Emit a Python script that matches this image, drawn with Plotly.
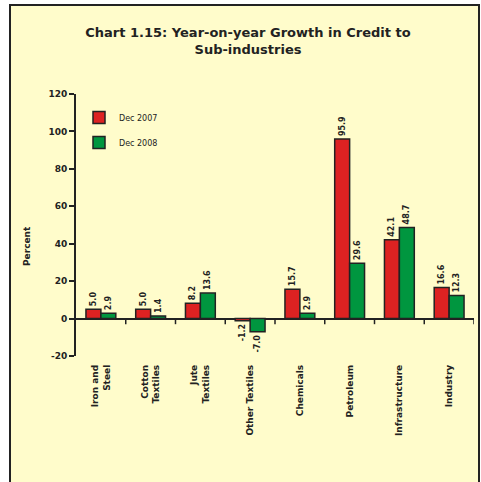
import plotly.graph_objects as go

# Growth in bank credit by sub-industry (per cent, year-on-year)
categories = ["Iron and<br>Steel", "Cotton<br>Textiles", "Jute<br>Textiles", "Other Textiles",
              "Chemicals", "Petroleum", "Infrastructure", "Industry"]
series_names = ["Dec 2007", "Dec 2008"]
growth_2007 = [5.0, 5.0, 8.2, -1.2, 15.7, 95.9, 42.1, 16.6]
growth_2008 = [2.9, 1.4, 13.6, -7.0, 2.9, 29.6, 48.7, 12.3]
y_ticks = [-20, 0, 20, 40, 60, 80, 100, 120]

W, H = 481, 482
ML, MR, MT, MB = 76, 7, 94, 126
PW, PH = W - ML - MR, H - MT - MB

def px_x(p):
    return (p - ML) / PW

def px_y(p):
    return (H - MB - p) / PH

BG = "#FFFCCB"
INK = "#222222"
FONT = "DejaVu Sans"

x_idx = list(range(len(categories)))

fig = go.Figure()
for name, vals, col in [(series_names[0], growth_2007, "#DD2222"),
                        (series_names[1], growth_2008, "#00963F")]:
    fig.add_trace(go.Bar(
        x=x_idx, y=vals, name=name, legendgroup=name,
        marker=dict(color=col, line=dict(color=INK, width=1.5)),
        text=[f"<b>{v:.1f}</b>" for v in vals],
        textposition="outside", textangle=-90, constraintext="none",
        textfont=dict(family=FONT, size=8, color=INK),
        cliponaxis=False,
    ))

# Frame around the chart panel
fig.add_shape(type="rect", xref="paper", yref="paper",
              x0=px_x(10), x1=px_x(479), y0=px_y(495), y1=px_y(5),
              fillcolor=BG, line=dict(color=INK, width=2), layer="below")

# Category boundary ticks along the zero line
for i in x_idx:
    fig.add_shape(type="line", xref="x", yref="y",
                  x0=i + 0.5, x1=i + 0.5, y0=0, y1=-3,
                  line=dict(color=INK, width=1.5))

# Vertical axis caption
fig.add_annotation(text="<b>Percent</b>", xref="paper", yref="paper",
                   x=px_x(27), y=px_y(246), textangle=-90, showarrow=False,
                   xanchor="center", yanchor="middle",
                   font=dict(family=FONT, size=9, color=INK))

fig.update_layout(
    width=W, height=H,
    margin=dict(l=ML, r=MR, t=MT, b=MB),
    paper_bgcolor="white", plot_bgcolor="rgba(0,0,0,0)",
    barmode="group", bargap=0.4, bargroupgap=0,
    font=dict(family=FONT, color=INK),
    title=dict(text="<b>Chart 1.15: Year-on-year Growth in Credit to<br>Sub-industries</b>",
               x=248 / W, xref="container", xanchor="center", y=(H - 37) / H,
               yanchor="middle", font=dict(family=FONT, size=13, color=INK)),
    legend=dict(x=px_x(79), y=px_y(103), xanchor="left", yanchor="top",
                bgcolor="rgba(0,0,0,0)", font=dict(family=FONT, size=8, color=INK),
                tracegroupgap=6, itemwidth=30),
    showlegend=True,
)

fig.update_xaxes(range=[-0.5, len(categories) - 0.5], tickmode="array",
                 tickvals=x_idx, ticktext=[f"<b>{c}</b>" for c in categories],
                 tickangle=-90, showline=False, ticks="", showgrid=False,
                 ticklabelstandoff=6,
                 tickfont=dict(family=FONT, size=9, color=INK))
fig.update_yaxes(range=[-20, 120], tickvals=y_ticks, ticktext=[f"<b>{t}</b>" for t in y_ticks],
                 showline=True, linecolor=INK, linewidth=2, ticks="outside",
                 ticklen=5, tickwidth=1.5, tickcolor=INK, showgrid=False,
                 zeroline=True, zerolinecolor=INK, zerolinewidth=2,
                 tickfont=dict(family=FONT, size=9, color=INK))

fig.write_html("out.html")
